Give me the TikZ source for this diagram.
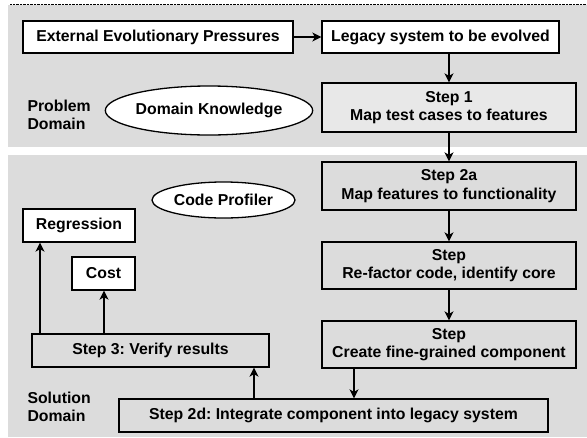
\documentclass[tikz,border=0pt]{standalone}
\usepackage{fontspec}
\setmainfont{Liberation Sans}
\usetikzlibrary{shapes,arrows.meta}

\definecolor{panelgray}{HTML}{DCDCDC}
\definecolor{stepgray}{HTML}{E8E8E8}

\newcommand{\boxfont}{\fontsize{15.8}{18.5}\selectfont\bfseries}
\frenchspacing

\tikzset{
  box/.style={draw, line width=1.3pt, fill=white, font=\boxfont, inner sep=0, align=center},
  stepbox/.style={box, fill=panelgray},
  oval/.style={draw, line width=1.3pt, fill=white, ellipse, font=\boxfont, inner sep=0},
  flow/.style={line width=1.3pt, -{Stealth[length=9pt, width=9pt, inset=2.5pt]}}
}

\begin{document}
\begin{tikzpicture}[x=1pt, y=-1pt]
      \useasboundingbox (0,0) rectangle (587,437);
      % the two domains
      \fill [panelgray] (8,5) rectangle (587,147);
      \fill [panelgray] (8,155) rectangle (587,437);
      \draw [densely dotted] (10,4) -- (587,4);

      \node [anchor=west, align=left, font=\boxfont] (pd) at (24,115) {Problem\\Domain};
      \node [anchor=west, align=left, font=\boxfont] (sd) at (24,407) {Solution\\Domain};

      % problem domain
      \node [box, minimum width=237, minimum height=32] (legacy) at (440.5,37) {Legacy system to be evolved};
      \node [box, minimum width=270, minimum height=32] (ext) at (158,37) {External Evolutionary Pressures};
      \node [box, fill=stepgray, minimum width=254, minimum height=49] (s1) at (449,107.5) {Step 1\\Map test cases to features};
      \node [oval, minimum width=206, minimum height=49] (dk) at (209,110.5) {Domain Knowledge};

      % solution domain
      \node [oval, minimum width=143, minimum height=36] (cp) at (223.5,200) {Code Profiler};
      \node [stepbox, minimum width=254, minimum height=48] (s2a) at (449,186) {Step 2a\\Map features to functionality};
      \node [stepbox, minimum width=254, minimum height=47] (s2b) at (449,265.5) {Step\\Re-factor code, identify core};
      \node [stepbox, minimum width=254, minimum height=47] (s2c) at (449,344.5) {Step\\Create fine-grained component};
      \node [stepbox, minimum width=429, minimum height=33] (s2d) at (333.5,415.5) {Step 2d: Integrate component into legacy system};
      \node [stepbox, minimum width=237, minimum height=33] (s3) at (150.5,350.5) {Step 3: Verify results};
      \node [box, minimum width=112, minimum height=33] (reg) at (79,225.5) {Regression};
      \node [box, minimum width=63, minimum height=33] (cost) at (103.5,273.5) {Cost};

      \draw [flow] (ext) -- (legacy);
      \draw [flow] (legacy.south -| 449,0) -- (449,0 |- s1.north);
      \draw [flow] (s1) -- (s2a);
      \draw [flow] (s2a) -- (s2b);
      \draw [flow] (s2b) -- (s2c);
      \draw [flow] (s2c.south -| 354,0) -- (354,0 |- s2d.north);
      \draw [flow] (s2d.north -| 254,0) -- (254,0 |- s3.south);
      \draw [flow] (s3.north -| 40,0) -- (40,0 |- reg.south);
      \draw [flow] (s3.north -| 104,0) -- (104,0 |- cost.south);
    \end{tikzpicture}
\end{document}
